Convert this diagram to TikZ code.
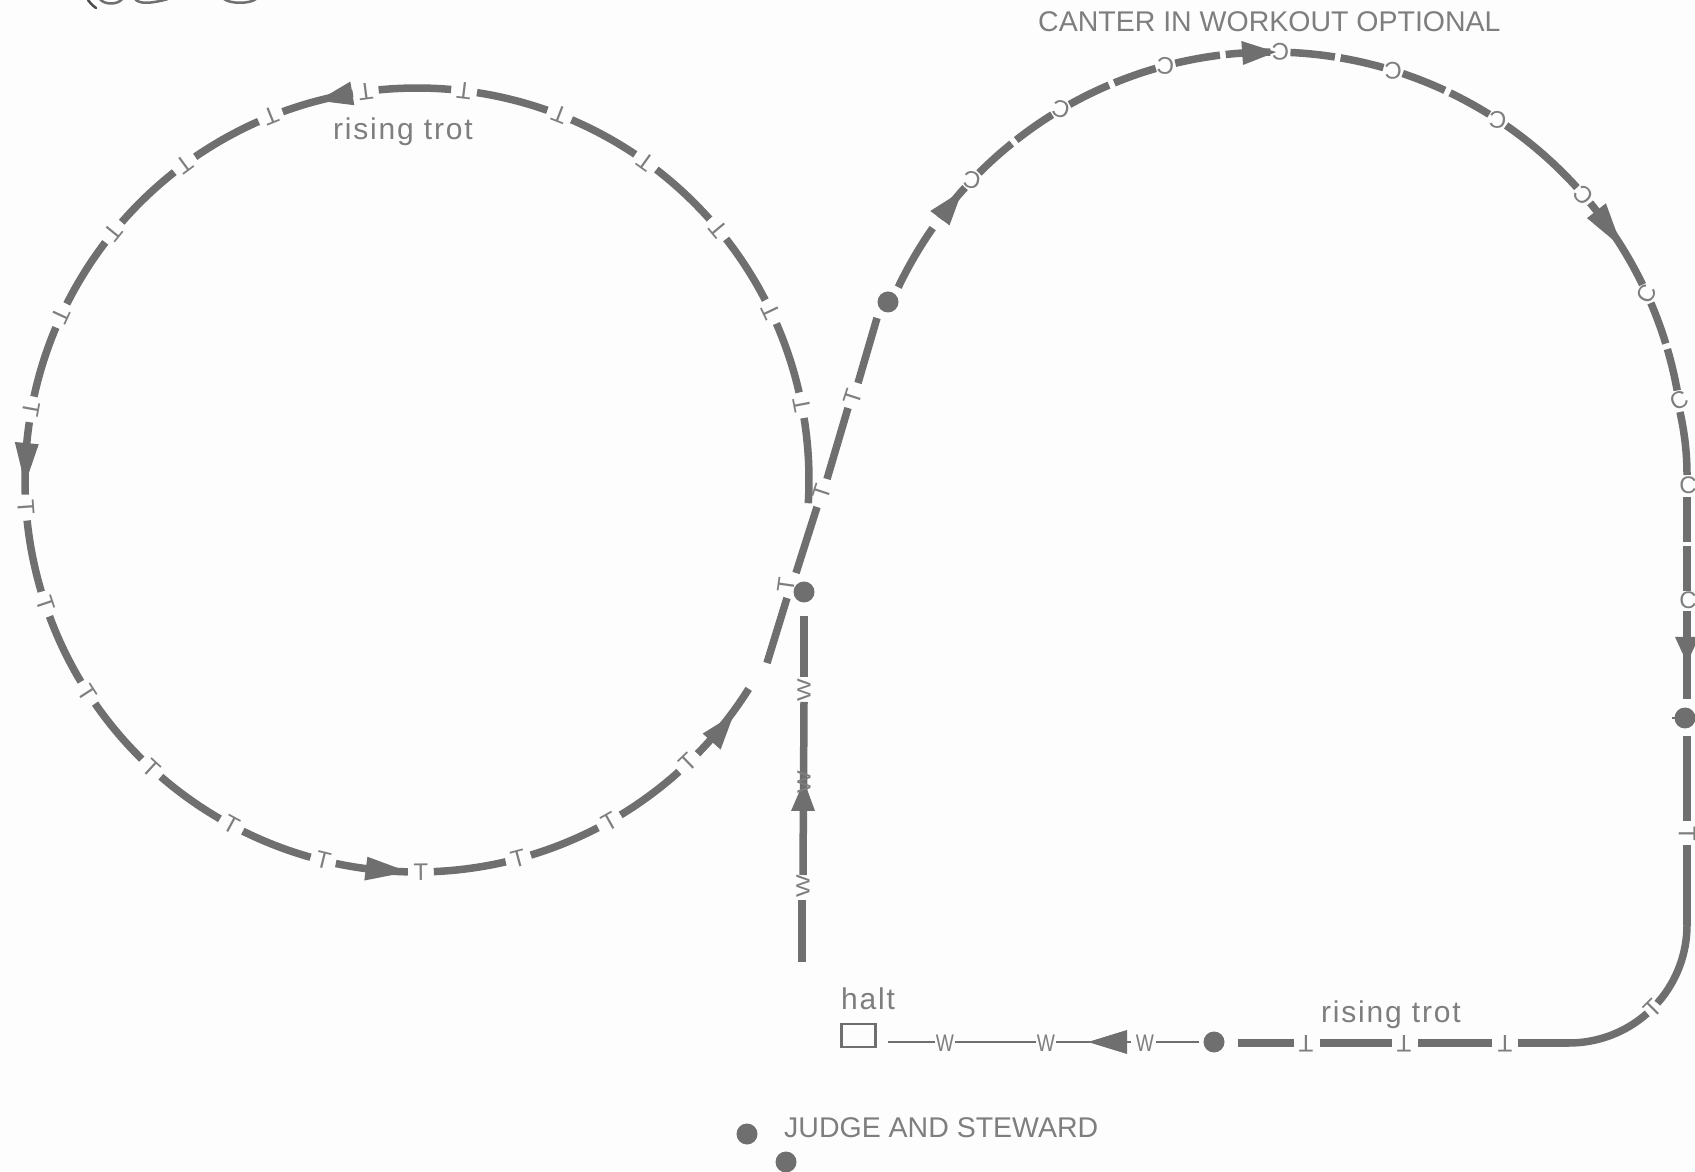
\documentclass[tikz,border=0pt]{standalone}
\usepackage{fontspec}
\usetikzlibrary{calc}
\setmainfont{Liberation Sans}
\newfontfamily\lblfont{Liberation Sans}
\newfontfamily\lowfont[LetterSpace=6]{Liberation Sans}
\definecolor{ink}{HTML}{6F6F6F}
\definecolor{lbl}{HTML}{7E7E7E}
\definecolor{paper}{HTML}{FDFDFD}
\newcommand{\arcseg}[4]{\draw[trk] ($(#1)+(#3:#2)$) arc[start angle=#3,end angle=#4,radius=#2];}
\newcommand{\arcarrow}[4]{\fill[ink] ($(#1)+(#3:#2+12)$) -- ($(#1)+(#3:#2-12)$) -- ($(#1)+(#4:#2)$) -- cycle;}
\begin{document}
\begin{tikzpicture}[x=1pt,y=1pt,
  trk/.style={draw=ink,line width=7.5pt,line cap=butt},
  thinl/.style={draw=ink,line width=2.6pt,line cap=butt},
  ltr/.style={inner sep=0pt,text=lbl,font=\fontsize{24}{24}\selectfont},
  wltr/.style={ltr,xscale=0.8},
  caps/.style={inner sep=0pt,text=lbl,anchor=base west,font=\lblfont\fontsize{28.5}{30}\selectfont},
  lower/.style={inner sep=0pt,text=lbl,anchor=base west,font=\lowfont\fontsize{30}{30}\selectfont},
  dot/.style={circle,fill=ink,inner sep=0pt,minimum size=21pt}]
\useasboundingbox (0,0) rectangle (1695,1171);
\clip (0,0) rectangle (1695,1171);
\fill[paper] (0,0) rectangle (1695,1171);
\coordinate (L) at (417,691);
\coordinate (U) at (1271,706);
\coordinate (S) at (1569,246);

% clipped handwriting at the top edge
\draw[ink!70!black,line width=2.5pt,line cap=round] (88,1171) .. controls (90,1168) and (92,1166) .. (96,1163);
\draw[ink,line width=2.5pt] (100,1172) .. controls (104,1166) and (118,1166) .. (122,1172)
  (135,1172) .. controls (139,1167) and (150,1167) .. (168,1172)
  (224,1172) .. controls (230,1167) and (250,1167) .. (256,1172);

% left circle
\foreach \k in {0,...,20}{
  \pgfmathsetmacro\a{11+14.42*\k+1.9}
  \pgfmathsetmacro\b{11+14.42*(\k+1)-1.9}
  \arcseg{L}{392}{\a}{\b}
}
\arcseg{L}{392}{-3.4}{9.1}
\arcseg{L}{392}{315.7}{327.8}
\foreach \k in {0,...,21}{
  \pgfmathsetmacro\a{11+14.42*\k}
  \node[ltr,rotate=\a+90] (tl\k) at ($(L)+(\a:392)$) {T};
}
\arcarrow{L}{392}{99.5}{104.6}
\arcarrow{L}{392}{174.6}{180.6}
\arcarrow{L}{392}{262.5}{268.7}
\arcarrow{L}{394}{318.4}{323.5}

% rising straight
\draw[trk] (767,508) -- (787,573);
\draw[trk] (796,598) -- (817,664);
\draw[trk] (827,692) -- (848,763);
\draw[trk] (858,788) -- (877,853);
\node[ltr,rotate=82] (t1) at (786,586) {T};
\node[ltr,rotate=72] (t2) at (822,679) {T};
\node[ltr,rotate=72] (t3) at (853,774) {T};
\node[dot] (d1) at (804,579) {};

% upper arc
\node[dot] (d2) at (888,869) {};
\arcseg{U}{413}{154.5}{145}
\arcarrow{U}{413}{143.3}{138.4}
\arcseg{U}{413}{143.3}{137.8}
\arcseg{U}{413}{135}{128.9}
\arcseg{U}{413}{128.1}{122}
\arcseg{U}{413}{119.2}{113.1}
\arcseg{U}{413}{112.3}{106.2}
\arcseg{U}{413}{103.4}{97.1}
\arcseg{U}{413}{96.3}{90.1}
\arcseg{U}{413}{87.3}{81.1}
\arcseg{U}{413}{80.3}{74.2}
\arcseg{U}{413}{71.4}{65.1}
\arcseg{U}{413}{64.3}{58.1}
\arcseg{U}{413}{55.3}{42.2}
\arcseg{U}{413}{39.4}{25.9}
\arcseg{U}{413}{23.1}{17.1}
\arcseg{U}{413}{16.3}{10.4}
\arcarrow{U}{413}{94}{89.3}
\arcarrow{U}{413}{38}{31.8}
\foreach \a/\r [count=\i] in {136.4/170,120.6/165,104.8/175,88.7/180,72.8/180,56.7/175,40.8/135,24.5/60,9/25}{
  \node[ltr,rotate=\r] (cu\i) at ($(U)+(\a:413)$) {C};
}

% right vertical
\draw[trk] (1680,759) .. controls (1685,736) and (1687,716) .. (1687,696);
\node[ltr] (c1) at (1688,686) {C};
\draw[trk] (1687,674) -- (1687,629);
\draw[trk] (1687,625) -- (1687,580);
\node[ltr] (c2) at (1688,571) {C};
\draw[trk] (1687,560) -- (1687,472);
\fill[ink] (1675,534) -- (1699,534) -- (1687,508) -- cycle;
\draw[thinl] (1672,453) -- (1680,453);
\node[dot] (d3) at (1685,453) {};
\draw[trk] (1687,435) -- (1687,350);
\node[ltr,rotate=-90] (t4) at (1687,337) {T};
\draw[trk] (1687,326) -- (1687,246);

% corner
\arcseg{S}{118}{0}{-41.5}
\node[ltr,rotate=45] (t5) at ($(S)+(-45:118)$) {T};
\arcseg{S}{118}{-48.5}{-90}

% bottom row
\draw[trk] (1569,128) -- (1518,128);
\draw[trk] (1492,128) -- (1418,128);
\draw[trk] (1392,128) -- (1320,128);
\draw[trk] (1294,128) -- (1238,128);
\node[ltr,rotate=180] (t6) at (1505,127) {T};
\node[ltr,rotate=180] (t7) at (1404,127) {T};
\node[ltr,rotate=180] (t8) at (1306,127) {T};
\node[dot] (d4) at (1214,129) {};
\draw[thinl] (1199,129) -- (1156,129);
\node[wltr] (w1) at (1145,128) {W};
\draw[thinl] (1131,129) -- (1127,129);
\fill[ink] (1127,141) -- (1127,117) -- (1088,129) -- cycle;
\draw[thinl] (1090,129) -- (1056,129);
\node[wltr] (w2) at (1046,128) {W};
\draw[thinl] (1036,129) -- (955,129);
\node[wltr] (w3) at (945,128) {W};
\draw[thinl] (935,129) -- (888,129);
\node[draw=ink,line width=2.6pt,inner sep=0pt,minimum width=34pt,minimum height=23pt] (halt) at (858.5,135.5) {};
\node[lower] (haltt) at (841,162) {halt};

% vertical walk
\draw[trk] (802,209) -- (802,271);
\draw[trk] (803,296) -- (804,469);
\fill[ink] (791,360) -- (815,360) -- (804,390) -- cycle;
\draw[trk] (804,494) -- (804,555);
\node[wltr,rotate=90] (w4) at (803,285) {W};
\node[wltr,rotate=90] (w5) at (804,481) {W};
\node[wltr,rotate=90] (w6) at (804,389) {W};

% labels
\node[lower] (rt1) at (333,1031) {rising trot};
\node[lower] (rt2) at (1321,149) {rising trot};
\node[caps] (cw) at (1038,1139) {CANTER IN WORKOUT OPTIONAL};
\node[caps] (js) at (784,34) {JUDGE AND STEWARD};
\node[dot] (j1) at (747,37) {};
\node[dot] (j2) at (786,9) {};
\end{tikzpicture}
\end{document}
